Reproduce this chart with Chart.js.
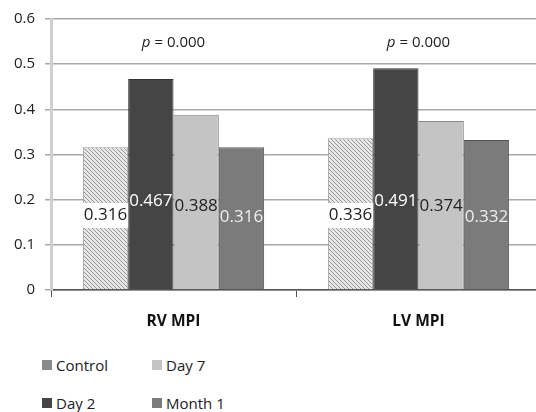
<!DOCTYPE html>
<html>
<head>
<meta charset="utf-8">
<script src="https://cdn.jsdelivr.net/npm/chart.js@4"></script>
<style>
	body{margin:0;background:#fff;font-family:"Open Sans","Noto Sans",sans-serif;}
	#wrap{position:relative;width:536px;height:412px;overflow:hidden;}
	#legend{position:absolute;left:42px;top:354px;display:grid;grid-template-columns:110px 110px;row-gap:16px;font-size:15px;color:#222;}
	#legend div{display:flex;align-items:center;height:22px;}
	#legend span.sw{display:inline-block;width:10px;height:10px;margin-right:4px;}
</style>
</head>
<body>
<div id="wrap">
	<canvas id="chart" width="541" height="340"></canvas>
	<div id="legend"></div>
</div>
<script>
// data
const categories=["RV MPI","LV MPI"];
const seriesNames=["Control","Day 2","Day 7","Month 1"];
const control=[0.316,0.336];
const day2=[0.467,0.491];
const day7=[0.388,0.374];
const month1=[0.316,0.332];
const pValues=["0.000","0.000"];
const yTicks=[0,0.1,0.2,0.3,0.4,0.5,0.6];

// hatched fill for Control
function hatch(){
	let c=document.createElement("canvas");
	c.width=4;c.height=4;
	let g=c.getContext("2d");
	g.fillStyle="#e8e8e8";
	g.fillRect(0,0,4,4);
	g.strokeStyle="#959595";
	g.lineWidth=1;
	g.beginPath();
	g.moveTo(0,0);g.lineTo(4,4);
	g.moveTo(-2,2);g.lineTo(2,6);
	g.moveTo(2,-2);g.lineTo(6,2);
	g.stroke();
	return g.createPattern(c,"repeat");
}

const styles=[
	{fill:hatch(),border:"#9a9a9a",label:"#222",box:true,labelAt:0.166},
	{fill:"#454545",border:"#333",label:"#fff",box:false,labelAt:0.197},
	{fill:"#c4c4c4",border:"#8a8a8a",label:"#222",box:false,labelAt:0.186},
	{fill:"#7b7b7b",border:"#555",label:"#eee",box:false,labelAt:0.162}
];

const values=[control,day2,day7,month1];

const datasets=seriesNames.map((name,i)=>({
	label:name,
	data:values[i],
	backgroundColor:styles[i].fill,
	borderColor:styles[i].border,
	borderWidth:1,
	categoryPercentage:0.74,
	barPercentage:1
}));

const font='"Open Sans","Noto Sans",sans-serif';

const barLabels={
	id:"barLabels",
	afterDatasetsDraw(chart){
		let ctx=chart.ctx, y=chart.scales.y;
		ctx.save();
		ctx.font="17px "+font;
		ctx.textAlign="center";
		ctx.textBaseline="middle";
		chart.data.datasets.forEach((ds,i)=>{
			let meta=chart.getDatasetMeta(i);
			meta.data.forEach((bar,j)=>{
				let st=styles[i];
				let py=y.getPixelForValue(st.labelAt);
				let txt=ds.data[j].toFixed(3);
				if(st.box){
					let w=bar.width;
					ctx.fillStyle="#fff";
					ctx.fillRect(bar.x-w/2,py-12,w,25);
				}
				ctx.fillStyle=st.label;
				ctx.fillText(txt,bar.x,py);
			});
		});
		// p values
		let x=chart.scales.x;
		categories.forEach((c,j)=>{
			let cx=x.getPixelForValue(j);
			let py=y.getPixelForValue(0.547);
			ctx.fillStyle="#222";
			ctx.textAlign="left";
			let rest=" = "+pValues[j];
			ctx.font="italic 15px "+font;
			let w1=ctx.measureText("p").width;
			ctx.font="15px "+font;
			let w2=ctx.measureText(rest).width;
			let sx=cx-(w1+w2)/2;
			ctx.font="italic 15px "+font;
			ctx.fillText("p",sx,py);
			ctx.font="15px "+font;
			ctx.fillText(rest,sx+w1,py);
		});
		ctx.restore();
	}
};

new Chart(document.getElementById("chart"),{
	type:"bar",
	data:{labels:categories,datasets:datasets},
	options:{
		responsive:false,
		animation:false,
		layout:{padding:{top:10,right:0,left:0,bottom:0}},
		plugins:{legend:{display:false},tooltip:{enabled:false}},
		scales:{
			x:{
				grid:{display:true,drawOnChartArea:false,offset:true,color:"#555",tickLength:7,lineWidth:1},
				border:{display:true,color:"#555",width:1.5},
				ticks:{color:"#111",padding:15,font:{family:font,size:15.5,weight:"bold"}},
				afterFit(s){s.height=50;}
			},
			y:{
				min:0,max:0.6,
				afterBuildTicks(s){s.ticks=yTicks.map(v=>({value:v}));},
				grid:{color:"#a8a8a8",lineWidth:1.5,tickLength:6},
				border:{display:true,color:"#cfcfcf",width:3},
				ticks:{color:"#222",padding:10,font:{family:font,size:15},callback:(v)=>String(v)},
				afterFit(s){s.width=51;}
			}
		}
	},
	plugins:[barLabels]
});

// legend in two columns: Control, Day 7 / Day 2, Month 1
const legendOrder=[0,2,1,3];
const legendColors=["#8a8a8a","#454545","#c4c4c4","#7b7b7b"];
let leg=document.getElementById("legend");
legendOrder.forEach((i)=>{
	let d=document.createElement("div");
	d.innerHTML='<span class="sw" style="background:'+legendColors[i]+'"></span>'+seriesNames[i];
	leg.appendChild(d);
});
</script>
</body>
</html>
